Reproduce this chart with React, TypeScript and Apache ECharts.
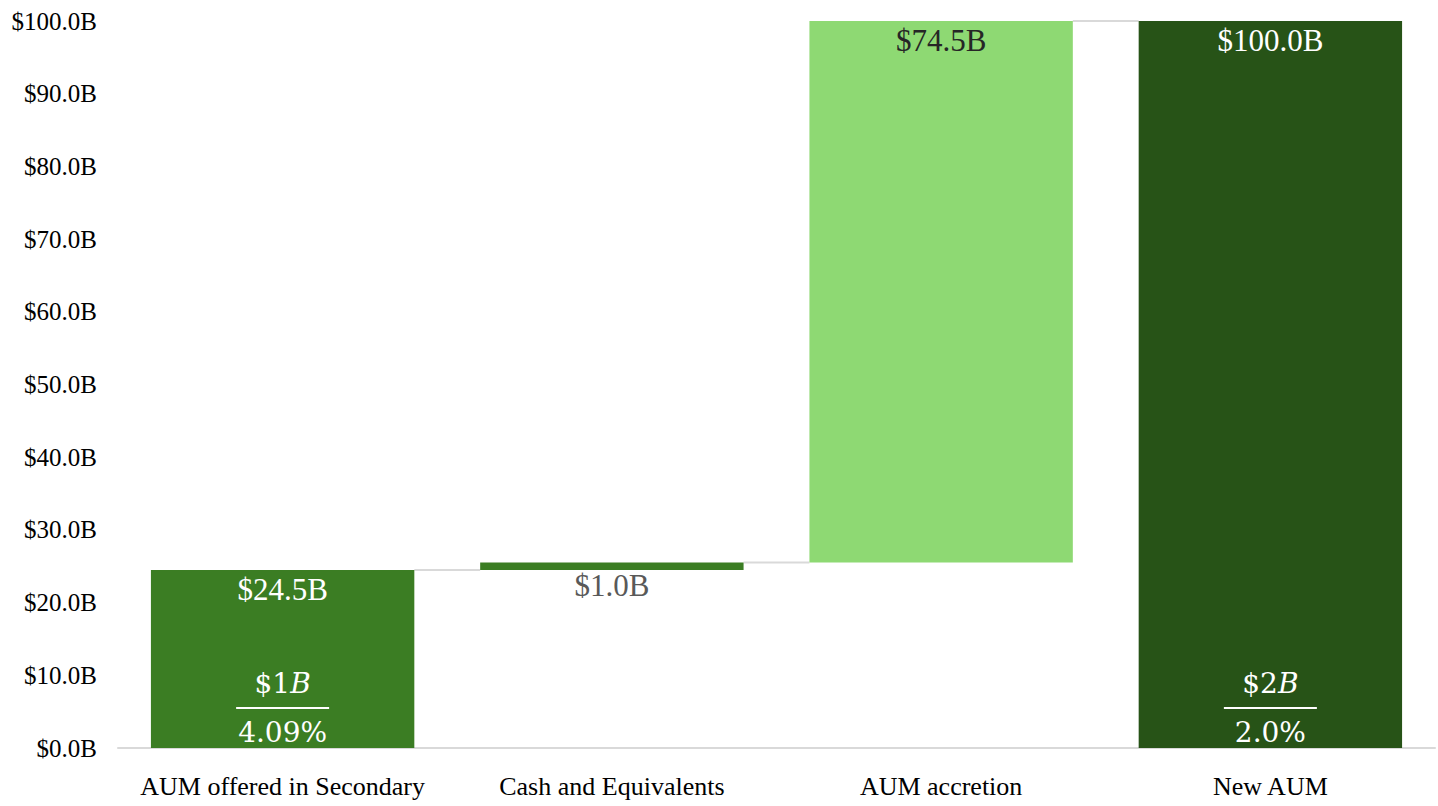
import React, { useEffect, useRef } from "react";
import * as echarts from "echarts";

const categories = ["AUM offered in Secondary", "Cash and Equivalents", "AUM accretion", "New AUM"];
const baseValues = [0, 24.5, 25.5, 0];
const deltaValues = [24.5, 1.0, 74.5, 100.0];
const barColors = ["#3B7D23", "#3B7D23", "#8ED973", "#275317"];
const valueLabelColors = ["#ffffff", "#595959", "#262626", "#ffffff"];
const valueLabelPositions = ["insideTop", "bottom", "insideTop", "insideTop"];
const fractionNumerators = ["$1", null, null, "$2"];
const fractionPercents = ["4.09%", null, null, "2.0%"];
const yTicks = { min: 0, max: 100, interval: 10 };

const SERIF = "'Liberation Serif', 'Times New Roman', serif";
const MATH = "'DejaVu Serif', serif";

export default function App() {
  const ref = useRef<HTMLDivElement>(null);
  useEffect(() => {
    if (!ref.current) return;
    const chart = echarts.init(ref.current, null, { renderer: "svg" });
    const tops = baseValues.map((b, i) => b + deltaValues[i]);
    const connectors = tops.slice(0, -1).map((v, i) => [i, v]);
    const option: any = {
      animation: false,
      grid: { left: 118, right: 3, top: 21, bottom: 58 },
      xAxis: {
        type: "category",
        data: categories,
        axisTick: { show: false },
        axisLine: { lineStyle: { color: "#d9d9d9", width: 2 } },
        axisLabel: { fontFamily: SERIF, fontSize: 26, color: "#000", margin: 25, interval: 0 },
      },
      yAxis: {
        type: "value",
        min: yTicks.min,
        max: yTicks.max,
        interval: yTicks.interval,
        splitLine: { show: false },
        axisLine: { show: false },
        axisTick: { show: false },
        axisLabel: {
          fontFamily: SERIF,
          fontSize: 25,
          color: "#000",
          margin: 21,
          formatter: (v: number) => `$${v.toFixed(1)}B`,
        },
      },
      series: [
        {
          name: "base",
          type: "bar",
          stack: "w",
          barWidth: "80%",
          silent: true,
          itemStyle: { color: "transparent" },
          data: baseValues,
        },
        {
          name: "value",
          type: "bar",
          stack: "w",
          barWidth: "80%",
          data: deltaValues.map((v, i) => ({
            value: v,
            itemStyle: { color: barColors[i] },
            label: {
              show: true,
              position: valueLabelPositions[i],
              distance: valueLabelPositions[i] === "bottom" ? 0 : 4,
              color: valueLabelColors[i],
              fontFamily: SERIF,
              fontSize: 31,
              formatter: `$${v.toFixed(1)}B`,
            },
          })),
        },
        {
          name: "fraction",
          type: "bar",
          barWidth: "80%",
          barGap: "-100%",
          silent: true,
          itemStyle: { color: "transparent" },
          data: tops.map((t, i) =>
            fractionNumerators[i] == null
              ? "-"
              : {
                  value: t,
                  label: {
                    show: true,
                    position: "insideBottom",
                    distance: 0,
                    formatter: `{num|${fractionNumerators[i]}}{it|B}\n{hr|}\n{pct|${fractionPercents[i]}}`,
                    rich: {
                      num: { fontFamily: MATH, fontSize: 28, color: "#fff", lineHeight: 34 },
                      it: { fontFamily: MATH, fontSize: 28, fontStyle: "italic", color: "#fff", lineHeight: 34 },
                      hr: { width: 93, height: 2, lineHeight: 16, backgroundColor: "#fff" },
                      pct: { fontFamily: MATH, fontSize: 28, color: "#fff", lineHeight: 32 },
                    },
                  },
                }
          ),
        },
        {
          name: "connectors",
          type: "custom",
          silent: true,
          data: connectors,
          renderItem: (params: any, api: any) => {
            const p = api.coord([api.value(0), api.value(1)]);
            const band = api.size([1, 0])[0];
            const bw = band * 0.8;
            return {
              type: "line",
              shape: { x1: p[0] + bw / 2, y1: p[1], x2: p[0] + band - bw / 2, y2: p[1] },
              style: { stroke: "#d9d9d9", lineWidth: 2 },
            };
          },
        },
      ],
    };
    chart.setOption(option);
    return () => chart.dispose();
  }, []);
  return (
    <div
      ref={ref}
      style={{ position: "absolute", left: 0, top: 0, width: "1438px", height: "806px" }}
    />
  );
}
